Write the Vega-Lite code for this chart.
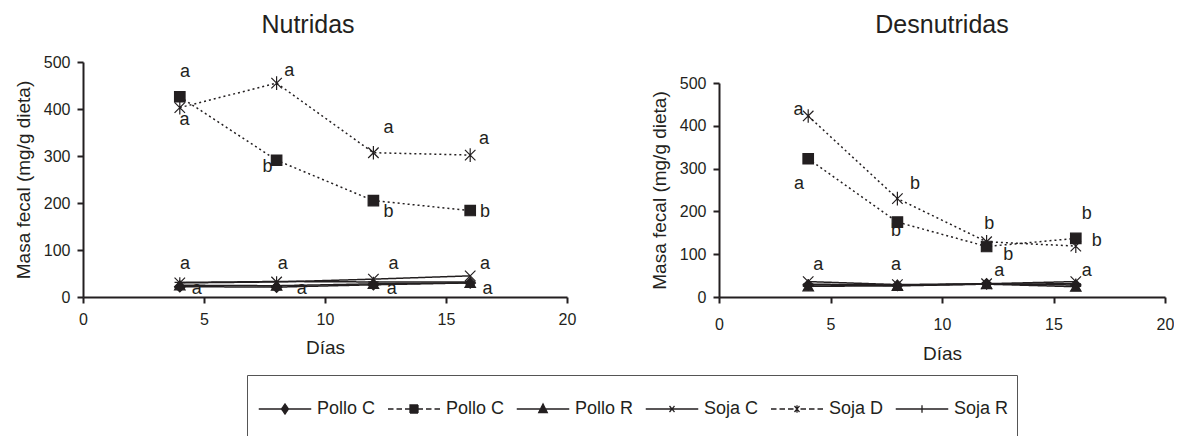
{
  "$schema": "https://vega.github.io/schema/vega-lite/v6.json",
  "padding": {"left": 14, "top": 13, "right": 0, "bottom": 0},
  "background": "white",
  "config": {
    "view": {"stroke": null},
    "font": "Liberation Sans",
    "axis": {"grid": false, "domainColor": "#231f20", "domainWidth": 2, "tickColor": "#231f20", "tickWidth": 2, "tickSize": 6,
      "labelFont": "Liberation Sans", "labelFontSize": 16, "labelColor": "#231f20",
      "titleFont": "Liberation Sans", "titleFontSize": 19, "titleFontWeight": "normal", "titleColor": "#231f20"},
    "title": {"font": "Liberation Sans", "fontSize": 25, "fontWeight": "normal", "color": "#231f20"}
  },
  "datasets": {
    "series": [
      {"panel": "N", "serie": "Pollo C", "dia": 4, "valor": 22},
      {"panel": "N", "serie": "Pollo C", "dia": 8, "valor": 21},
      {"panel": "N", "serie": "Pollo C", "dia": 12, "valor": 26},
      {"panel": "N", "serie": "Pollo C", "dia": 16, "valor": 30},
      {"panel": "N", "serie": "Pollo D", "dia": 4, "valor": 426},
      {"panel": "N", "serie": "Pollo D", "dia": 8, "valor": 291},
      {"panel": "N", "serie": "Pollo D", "dia": 12, "valor": 205},
      {"panel": "N", "serie": "Pollo D", "dia": 16, "valor": 184},
      {"panel": "N", "serie": "Pollo R", "dia": 4, "valor": 25},
      {"panel": "N", "serie": "Pollo R", "dia": 8, "valor": 24},
      {"panel": "N", "serie": "Pollo R", "dia": 12, "valor": 28},
      {"panel": "N", "serie": "Pollo R", "dia": 16, "valor": 30},
      {"panel": "N", "serie": "Soja C", "dia": 4, "valor": 30},
      {"panel": "N", "serie": "Soja C", "dia": 8, "valor": 32},
      {"panel": "N", "serie": "Soja C", "dia": 12, "valor": 38},
      {"panel": "N", "serie": "Soja C", "dia": 16, "valor": 45},
      {"panel": "N", "serie": "Soja D", "dia": 4, "valor": 403},
      {"panel": "N", "serie": "Soja D", "dia": 8, "valor": 455},
      {"panel": "N", "serie": "Soja D", "dia": 12, "valor": 307},
      {"panel": "N", "serie": "Soja D", "dia": 16, "valor": 302},
      {"panel": "N", "serie": "Soja R", "dia": 4, "valor": 31},
      {"panel": "N", "serie": "Soja R", "dia": 8, "valor": 33},
      {"panel": "N", "serie": "Soja R", "dia": 12, "valor": 32},
      {"panel": "N", "serie": "Soja R", "dia": 16, "valor": 32},
      {"panel": "D", "serie": "Pollo C", "dia": 4, "valor": 28},
      {"panel": "D", "serie": "Pollo C", "dia": 8, "valor": 27},
      {"panel": "D", "serie": "Pollo C", "dia": 12, "valor": 31},
      {"panel": "D", "serie": "Pollo C", "dia": 16, "valor": 28},
      {"panel": "D", "serie": "Pollo D", "dia": 4, "valor": 323},
      {"panel": "D", "serie": "Pollo D", "dia": 8, "valor": 175},
      {"panel": "D", "serie": "Pollo D", "dia": 12, "valor": 118},
      {"panel": "D", "serie": "Pollo D", "dia": 16, "valor": 137},
      {"panel": "D", "serie": "Pollo R", "dia": 4, "valor": 25},
      {"panel": "D", "serie": "Pollo R", "dia": 8, "valor": 26},
      {"panel": "D", "serie": "Pollo R", "dia": 12, "valor": 30},
      {"panel": "D", "serie": "Pollo R", "dia": 16, "valor": 24},
      {"panel": "D", "serie": "Soja C", "dia": 4, "valor": 36},
      {"panel": "D", "serie": "Soja C", "dia": 8, "valor": 29},
      {"panel": "D", "serie": "Soja C", "dia": 12, "valor": 31},
      {"panel": "D", "serie": "Soja C", "dia": 16, "valor": 36},
      {"panel": "D", "serie": "Soja D", "dia": 4, "valor": 423},
      {"panel": "D", "serie": "Soja D", "dia": 8, "valor": 230},
      {"panel": "D", "serie": "Soja D", "dia": 12, "valor": 129},
      {"panel": "D", "serie": "Soja D", "dia": 16, "valor": 119},
      {"panel": "D", "serie": "Soja R", "dia": 4, "valor": 30},
      {"panel": "D", "serie": "Soja R", "dia": 8, "valor": 28},
      {"panel": "D", "serie": "Soja R", "dia": 12, "valor": 30},
      {"panel": "D", "serie": "Soja R", "dia": 16, "valor": 31}
    ],
    "letras": [
      {"panel": "N", "dia": 4.21, "valor": 479, "letra": "a"},
      {"panel": "N", "dia": 4.19, "valor": 377, "letra": "a"},
      {"panel": "N", "dia": 8.52, "valor": 481, "letra": "a"},
      {"panel": "N", "dia": 7.62, "valor": 277, "letra": "b"},
      {"panel": "N", "dia": 12.62, "valor": 359, "letra": "a"},
      {"panel": "N", "dia": 12.62, "valor": 181, "letra": "b"},
      {"panel": "N", "dia": 16.57, "valor": 336, "letra": "a"},
      {"panel": "N", "dia": 16.61, "valor": 181, "letra": "b"},
      {"panel": "N", "dia": 4.21, "valor": 70, "letra": "a"},
      {"panel": "N", "dia": 8.25, "valor": 70, "letra": "a"},
      {"panel": "N", "dia": 12.83, "valor": 70, "letra": "a"},
      {"panel": "N", "dia": 16.61, "valor": 70, "letra": "a"},
      {"panel": "N", "dia": 4.7, "valor": 18, "letra": "a"},
      {"panel": "N", "dia": 9.04, "valor": 18, "letra": "a"},
      {"panel": "N", "dia": 12.76, "valor": 18, "letra": "a"},
      {"panel": "N", "dia": 16.72, "valor": 18, "letra": "a"},
      {"panel": "D", "dia": 3.56, "valor": 437, "letra": "a"},
      {"panel": "D", "dia": 3.59, "valor": 265, "letra": "a"},
      {"panel": "D", "dia": 8.79, "valor": 265, "letra": "b"},
      {"panel": "D", "dia": 7.94, "valor": 154, "letra": "b"},
      {"panel": "D", "dia": 12.12, "valor": 170, "letra": "b"},
      {"panel": "D", "dia": 12.97, "valor": 98, "letra": "b"},
      {"panel": "D", "dia": 16.49, "valor": 193, "letra": "b"},
      {"panel": "D", "dia": 16.94, "valor": 131, "letra": "b"},
      {"panel": "D", "dia": 4.45, "valor": 74, "letra": "a"},
      {"panel": "D", "dia": 7.94, "valor": 74, "letra": "a"},
      {"panel": "D", "dia": 12.57, "valor": 61, "letra": "a"},
      {"panel": "D", "dia": 16.49, "valor": 61, "letra": "a"}
    ]
  },
  "resolve": {"scale": {"color": "shared", "shape": "shared", "strokeDash": "shared"}, "legend": {"color": "shared"}},
  "spacing": 74,
  "hconcat": [
    {
      "title": {"text": "Nutridas", "offset": 16, "dx": -17, "frame": "group"},
      "width": 484,
      "height": 235,
      "encoding": {
        "x": {"field": "dia", "type": "quantitative", "scale": {"domain": [0, 20], "nice": false},
          "axis": {"values": [0, 5, 10, 15, 20], "title": "Días", "labelPadding": 8, "titlePadding": 11, "labelFlush": false}},
        "y": {"field": "valor", "type": "quantitative", "scale": {"domain": [0, 500], "nice": false},
          "axis": {"values": [0, 100, 200, 300, 400, 500], "title": "Masa fecal (mg/g dieta)", "labelPadding": 7, "titlePadding": 10}}
      },
      "layer": [
        {
          "data": {"name": "series"},
          "transform": [{"filter": "datum.panel === 'N'"}],
          "mark": {"type": "line", "strokeWidth": 1.5},
          "encoding": {
            "color": {"field": "serie", "type": "nominal",
              "scale": {"domain": ["Pollo C", "Pollo D", "Pollo R", "Soja C", "Soja D", "Soja R"], "range": ["#231f20", "#231f20", "#231f20", "#231f20", "#231f20", "#231f20"]},
              "legend": {"orient": "none", "legendX": 164, "legendY": 313, "direction": "horizontal", "columns": 6,
                "title": " ", "titleOrient": "bottom", "titleFontSize": 14, "titlePadding": 6,
                "strokeColor": "#555555", "padding": 8, "symbolSize": 2500, "symbolOffset": 4, "labelOffset": 6, "columnPadding": 8,
                "labelFont": "Liberation Sans", "labelFontSize": 18, "labelColor": "#231f20",
                "labelExpr": "datum.label === 'Pollo D' ? 'Pollo C' : datum.label",
                "encode": {"symbols": {"update": {
                  "shape": {"signal": "datum.value === 'Pollo C' ? 'M-1.05,0H1.05M0,-0.2L0.14,0L0,0.2L-0.14,0Z' : datum.value === 'Pollo D' ? 'M-1.04,0H-0.82M-0.7,0H-0.48M-0.36,0H-0.16M0.16,0H0.36M0.48,0H0.7M0.82,0H1.04M-0.16,-0.16H0.16V0.16H-0.16Z' : datum.value === 'Pollo R' ? 'M-1.05,0H1.05M0,-0.2L0.17,0.14H-0.17Z' : datum.value === 'Soja C' ? 'M-1.05,0H1.05M-0.1,-0.12L0.1,0.12M-0.1,0.12L0.1,-0.12' : datum.value === 'Soja D' ? 'M-1.04,0H-0.82M-0.7,0H-0.48M-0.36,0H-0.14M0.14,0H0.36M0.48,0H0.7M0.82,0H1.04M-0.1,-0.12L0.1,0.12M-0.1,0.12L0.1,-0.12M0,-0.15V0.15' : 'M-1.05,0H1.05M0,-0.15V0.15'"},
                  "size": {"value": 2500},
                  "fill": {"value": "#231f20"},
                  "strokeWidth": {"value": 1.3},
                  "strokeDash": {"value": [1, 0]},
                  "opacity": {"value": 1}
                }}}
              }},
            "strokeDash": {"field": "serie", "type": "nominal",
              "scale": {"domain": ["Soja R", "Soja D", "Soja C", "Pollo R", "Pollo D", "Pollo C"], "range": [[1, 0], [2, 3], [1, 0], [1, 0], [2, 3], [1, 0]]},
              "legend": null}
          }
        },
        {
          "data": {"name": "series"},
          "transform": [{"filter": "datum.panel === 'N'"}],
          "mark": {"type": "point", "filled": true, "size": 110, "opacity": 1, "fill": "#231f20", "stroke": "#231f20", "strokeWidth": 1.2},
          "encoding": {
            "shape": {"field": "serie", "type": "nominal",
              "scale": {"domain": ["Soja R", "Soja D", "Soja C", "Pollo R", "Pollo D", "Pollo C"],
                "range": ["M-1,0H1M0,-1V1", "M-1,-1L1,1M-1,1L1,-1M0,-1.3V1.3", "M-1,-1L1,1M-1,1L1,-1", "triangle-up", "square", "diamond"]},
              "legend": null}
          }
        },
        {
          "data": {"name": "letras"},
          "transform": [{"filter": "datum.panel === 'N'"}],
          "mark": {"type": "text", "font": "Liberation Sans", "fontSize": 18, "color": "#231f20", "align": "center", "baseline": "alphabetic", "dy": 5},
          "encoding": {"text": {"field": "letra", "type": "nominal"}}
        }
      ]
    },
    {
      "title": {"text": "Desnutridas", "offset": 24, "frame": "group"},
      "width": 446,
      "height": 235,
      "encoding": {
        "x": {"field": "dia", "type": "quantitative", "scale": {"domain": [0, 20], "nice": false},
          "axis": {"values": [0, 5, 10, 15, 20], "title": "Días", "labelPadding": 13, "titlePadding": 12, "labelFlush": false}},
        "y": {"field": "valor", "type": "quantitative", "scale": {"domain": [0, 500], "range": [235, 21], "nice": false},
          "axis": {"values": [0, 100, 200, 300, 400, 500], "title": "Masa fecal (mg/g dieta)", "labelPadding": 7, "titlePadding": 10}}
      },
      "layer": [
        {
          "data": {"name": "series"},
          "transform": [{"filter": "datum.panel === 'D'"}],
          "mark": {"type": "line", "strokeWidth": 1.5},
          "encoding": {
            "color": {"field": "serie", "type": "nominal",
              "scale": {"domain": ["Pollo C", "Pollo D", "Pollo R", "Soja C", "Soja D", "Soja R"], "range": ["#231f20", "#231f20", "#231f20", "#231f20", "#231f20", "#231f20"]},
              "legend": {"orient": "none", "legendX": 164, "legendY": 313, "direction": "horizontal", "columns": 6,
                "title": " ", "titleOrient": "bottom", "titleFontSize": 14, "titlePadding": 6,
                "strokeColor": "#555555", "padding": 8, "symbolSize": 2500, "symbolOffset": 4, "labelOffset": 6, "columnPadding": 8,
                "labelFont": "Liberation Sans", "labelFontSize": 18, "labelColor": "#231f20",
                "labelExpr": "datum.label === 'Pollo D' ? 'Pollo C' : datum.label",
                "encode": {"symbols": {"update": {
                  "shape": {"signal": "datum.value === 'Pollo C' ? 'M-1.05,0H1.05M0,-0.2L0.14,0L0,0.2L-0.14,0Z' : datum.value === 'Pollo D' ? 'M-1.04,0H-0.82M-0.7,0H-0.48M-0.36,0H-0.16M0.16,0H0.36M0.48,0H0.7M0.82,0H1.04M-0.16,-0.16H0.16V0.16H-0.16Z' : datum.value === 'Pollo R' ? 'M-1.05,0H1.05M0,-0.2L0.17,0.14H-0.17Z' : datum.value === 'Soja C' ? 'M-1.05,0H1.05M-0.1,-0.12L0.1,0.12M-0.1,0.12L0.1,-0.12' : datum.value === 'Soja D' ? 'M-1.04,0H-0.82M-0.7,0H-0.48M-0.36,0H-0.14M0.14,0H0.36M0.48,0H0.7M0.82,0H1.04M-0.1,-0.12L0.1,0.12M-0.1,0.12L0.1,-0.12M0,-0.15V0.15' : 'M-1.05,0H1.05M0,-0.15V0.15'"},
                  "size": {"value": 2500},
                  "fill": {"value": "#231f20"},
                  "strokeWidth": {"value": 1.3},
                  "strokeDash": {"value": [1, 0]},
                  "opacity": {"value": 1}
                }}}
              }},
            "strokeDash": {"field": "serie", "type": "nominal",
              "scale": {"domain": ["Soja R", "Soja D", "Soja C", "Pollo R", "Pollo D", "Pollo C"], "range": [[1, 0], [2, 3], [1, 0], [1, 0], [2, 3], [1, 0]]},
              "legend": null}
          }
        },
        {
          "data": {"name": "series"},
          "transform": [{"filter": "datum.panel === 'D'"}],
          "mark": {"type": "point", "filled": true, "size": 110, "opacity": 1, "fill": "#231f20", "stroke": "#231f20", "strokeWidth": 1.2},
          "encoding": {
            "shape": {"field": "serie", "type": "nominal",
              "scale": {"domain": ["Soja R", "Soja D", "Soja C", "Pollo R", "Pollo D", "Pollo C"],
                "range": ["M-1,0H1M0,-1V1", "M-1,-1L1,1M-1,1L1,-1M0,-1.3V1.3", "M-1,-1L1,1M-1,1L1,-1", "triangle-up", "square", "diamond"]},
              "legend": null}
          }
        },
        {
          "data": {"name": "letras"},
          "transform": [{"filter": "datum.panel === 'D'"}],
          "mark": {"type": "text", "font": "Liberation Sans", "fontSize": 18, "color": "#231f20", "align": "center", "baseline": "alphabetic", "dy": 5},
          "encoding": {"text": {"field": "letra", "type": "nominal"}}
        }
      ]
    }
  ]
}
